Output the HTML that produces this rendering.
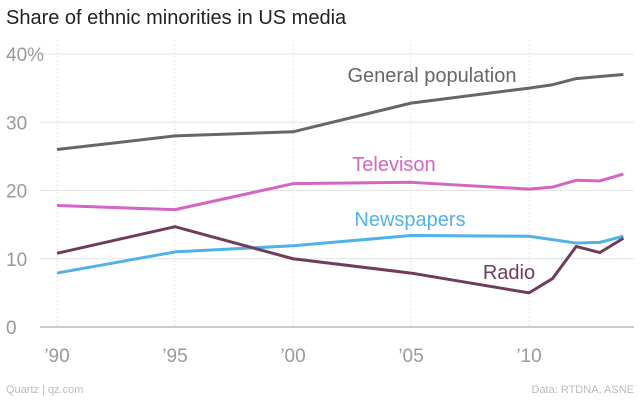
<!DOCTYPE html>
<html><head><meta charset="utf-8"><style>
body{margin:0;background:#fff;font-family:"Liberation Sans",sans-serif}
svg{display:block}
</style></head><body>
<svg id="c" width="640" height="400" xmlns="http://www.w3.org/2000/svg">
<text x="6" y="24" font-size="20" fill="#222">Share of ethnic minorities in US media</text>
<g id="grid"></g>
<g id="series"></g>
<text x="6" y="393" font-size="11" fill="#bbb">Quartz | qz.com</text>
<text x="634" y="393" font-size="11" fill="#bbb" text-anchor="end">Data: RTDNA, ASNE</text>
</svg>
<script>
const years=[1990,1995,2000,2005,2010,2011,2012,2013,2014];
const general=[26,28,28.6,32.8,35,35.5,36.4,36.7,37];
const television=[17.8,17.2,21,21.2,20.2,20.5,21.5,21.4,22.4];
const newspapers=[7.9,11,11.9,13.4,13.3,12.8,12.3,12.4,13.3];
const radio=[10.8,14.7,10,7.9,5,7.1,11.8,10.9,13];
const yTicks=[0,10,20,30,40];
const yTickLabels=["0","10","20","30","40%"];
const xTicks=[1990,1995,2000,2005,2010];
const xTickLabels=["’90","’95","’00","’05","’10"];
const NS="http://www.w3.org/2000/svg";
const x=v=>57+(v-1990)*23.6;
const y=v=>327-v*6.825;
function mk(t,a,p){const e=document.createElementNS(NS,t);for(const k in a)e.setAttribute(k,a[k]);p.appendChild(e);return e;}
const g=document.getElementById('grid'),s=document.getElementById('series');
yTicks.forEach((t,i)=>{
 const l=mk('line',{x1:40,x2:634,y1:y(t),y2:y(t),stroke:t===0?'#999':'#e4e4e4','stroke-width':1},g);
 
 
 const tx=mk('text',{x:6,y:y(t)+7,'font-size':19,fill:'#999'},g);tx.textContent=yTickLabels[i];
 
 
});
xTicks.forEach((t,i)=>{
 const l=mk('line',{x1:x(t),x2:x(t),y1:40,y2:327,stroke:'#e4e4e4','stroke-dasharray':'2,2'},g);
 
 
 const tx=mk('text',{x:x(t),y:362,'font-size':19,fill:'#999','text-anchor':'middle'},g);tx.textContent=xTickLabels[i];
 
 
});
const defs=[
 [general,'#666','General population',432,82,'general-population'],
 [television,'#d365c4','Televison',394,171,'television'],
 [newspapers,'#51b2e5','Newspapers',410,226,'newspapers'],
 [radio,'#703c5c','Radio',509,279,'radio']];
defs.forEach(([d,c,lab,lx,ly,n])=>{
 const p=mk('polyline',{points:d.map((v,i)=>x(years[i])+','+y(v)).join(' '),fill:'none',stroke:c,'stroke-width':3,'stroke-linejoin':'round'},s);
 
 
 const t=mk('text',{x:lx,y:ly,'font-size':20,fill:c,'text-anchor':'middle'},s);t.textContent=lab;
 
 
});
</script>
</body></html>
